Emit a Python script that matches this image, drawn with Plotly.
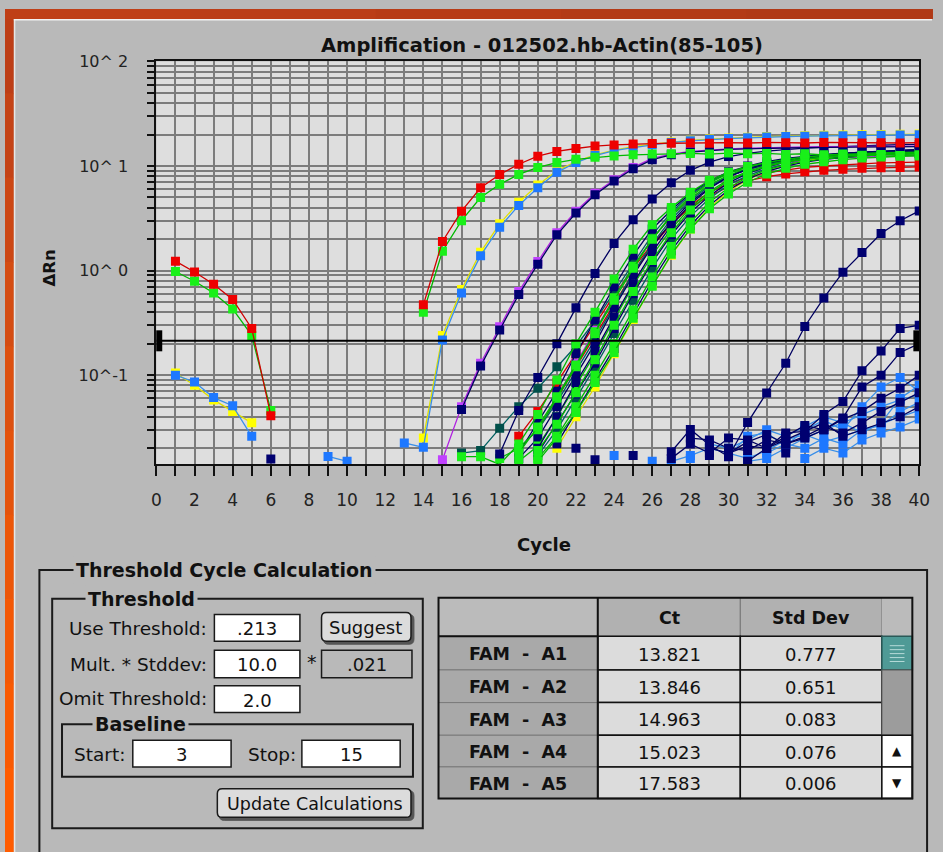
import plotly.graph_objects as go

# ---------------- data ----------------
threshold = 0.213

# curves that begin at cycle 1 (None = below the visible range)
red_a = [1.23, 0.97, 0.74, 0.53, 0.28, 0.041, None, None, None, None, None, None, None,
         0.47, 1.9, 3.7, 6.2, 8.3, 10.4, 12.4, 13.8, 14.7, 15.5, 15.9, 16.2, 16.4, 16.5,
         16.6, 16.5, 16.7, 16.6, 16.8, 16.7, 16.6, 16.8, 16.7, 16.6, 16.7, 16.6, 16.7]
green_a = [0.98, 0.79, 0.61, 0.43, 0.24, 0.046, None, None, None, None, None, None, None,
           0.40, 1.53, 3.0, 5.0, 6.7, 8.3, 9.7, 10.8, 11.6, 12.1, 12.5, 12.8, 13.0, 13.1,
           13.2, 13.0, 13.3, 13.1, 13.2, 12.9, 13.1, 12.8, 13.0, 12.7, 12.9, 12.6, 12.8]
blue_a = [0.10, 0.086, 0.061, 0.051, 0.026, None, None, None, 0.0167, 0.015, None, None,
          0.0225, 0.0204, 0.217, 0.61, 1.39, 2.6, 4.2, 6.2, 8.7, 10.8, 12.6, 14.0, 15.0,
          16.0, 16.8, 17.4, 17.9, 18.3, 18.6, 18.9, 19.1, 19.3, 19.4, 19.5, 19.6, 19.7, 19.8, 19.9]
yellow_a = [0.105, 0.08, 0.058, 0.045, 0.035, None, None, None, None, None, None, None, None,
            0.025, 0.24, 0.66, 1.5, 2.8, 4.5, 6.6, 9.0, 11.0, 12.8, 14.2, 15.3, 16.2, 17.0,
            17.6, 18.1, 18.5, 18.8, 19.1, 19.3, 19.5, 19.7, 19.8, 19.9, 20.0, 20.1, 20.2]

# later curves: (first cycle, values)
magenta_m = (15, [0.0155, 0.05, 0.13, 0.29, 0.63, 1.22, 2.3, 3.7, 5.5, 7.4, 9.7, 11.8, 13.0,
                  13.8, 14.3, 14.6, 14.8, 15.0, 15.1, 15.2, 15.3, 15.3, 15.4, 15.4, 15.5, 15.5])
navy_m = (16, [0.047, 0.122, 0.27, 0.59, 1.15, 2.2, 3.55, 5.3, 7.2, 9.4, 11.5, 12.8, 13.6,
               14.1, 14.4, 14.6, 14.8, 14.9, 15.0, 15.1, 15.1, 15.2, 15.2, 15.3, 15.3])
navy_n1 = (18, [0.0176, 0.046, 0.095, 0.2, 0.44, 0.94, 1.82, 3.06, 4.84, 6.9, 9.1, 10.9, 12.3,
                13.2, 13.9, 14.4, 14.8, 15.1, 15.4, 15.6, 15.8, 16.0, 16.1])
teal_t1 = (16, [0.018, 0.019, 0.031, 0.05, 0.075, 0.12, 0.19, 0.33, 0.62, 1.2, 2.2, 3.6, 5.3,
                7.0, 8.6, 9.8, 10.8, 11.6, 12.2, 12.6, 13.0, 13.3, 13.5, 13.7, 13.8])

bundle_red = [
    (19, [0.026, 0.045, 0.085, 0.16, 0.3, 0.58, 1.05, 1.8, 2.8, 4.0, 5.2, 6.3, 7.2, 7.9, 8.4,
          8.8, 9.1, 9.3, 9.5, 9.6, 9.7, 9.8]),
    (20, [0.03, 0.06, 0.12, 0.24, 0.48, 0.95, 1.7, 2.8, 4.2, 5.6, 6.8, 7.8, 8.6, 9.2, 9.7,
          10.0, 10.3, 10.5, 10.7, 10.8, 10.9]),
]
bundle_purple = [
    (20, [0.03, 0.06, 0.13, 0.27, 0.55, 1.1, 2.0, 3.3, 4.9, 6.5, 8.0, 9.2, 10.1, 10.8, 11.3,
          11.7, 12.0, 12.2, 12.4, 12.5, 12.6]),
]
bundle_teal = [
    (20, [0.017, 0.03, 0.06, 0.12, 0.25, 0.52, 1.05, 2.0, 3.3, 4.9, 6.6, 8.1, 9.4, 10.4, 11.2,
          11.8, 12.2, 12.6, 12.9, 13.1, 13.2]),
    (19, [0.02, 0.03, 0.055, 0.11, 0.22, 0.46, 0.95, 1.8, 3.1, 4.7, 6.4, 8.0, 9.3, 10.3, 11.1,
          11.7, 12.2, 12.6, 12.9, 13.1, 13.3, 13.4]),
]
bundle_yellow = [
    (21, [0.02, 0.04, 0.077, 0.16, 0.34, 0.72, 1.4, 2.5, 4.0, 5.7, 7.4, 8.9, 10.2, 11.2, 12.0,
          12.7, 13.2, 13.6, 13.9, 14.1]),
]
bundle_green = [
    (16, [0.0166, 0.0166, 0.014, 0.022, 0.042, 0.09, 0.2, 0.40, 0.83, 1.6, 2.75, 4.0, 5.6, 7.3,
          8.7, 9.9, 10.8, 11.5, 12.0, 12.4, 12.7, 13.0, 13.2, 13.3, 13.4]),
    (18, [0.016, 0.02, 0.03, 0.06, 0.12, 0.26, 0.55, 1.1, 2.0, 3.3, 4.9, 6.6, 8.2, 9.5, 10.5,
          11.3, 11.9, 12.3, 12.7, 13.0, 13.2, 13.4, 13.5]),
    (19, [0.015, 0.021, 0.04, 0.08, 0.16, 0.34, 0.72, 1.4, 2.5, 4.0, 5.7, 7.4, 8.9, 10.1, 11.0,
          11.7, 12.2, 12.6, 12.9, 13.1, 13.3, 13.4]),
    (19, [0.018, 0.032, 0.062, 0.125, 0.25, 0.52, 1.05, 2.0, 3.4, 5.1, 6.9, 8.5, 9.8, 10.8,
          11.6, 12.2, 12.6, 12.9, 13.2, 13.4, 13.5, 13.6]),
    (20, [0.016, 0.026, 0.05, 0.1, 0.2, 0.42, 0.87, 1.7, 2.9, 4.5, 6.2, 7.8, 9.2, 10.3, 11.1,
          11.7, 12.1, 12.5, 12.8, 13.0, 13.1]),
    (20, [0.015, 0.025, 0.044, 0.085, 0.165, 0.35, 0.71, 1.43, 2.5, 3.9, 5.4, 7.0, 8.4, 9.5,
          10.4, 11.0, 11.5, 11.9, 12.2, 12.4, 12.5]),
    (20, [0.019, 0.034, 0.068, 0.14, 0.3, 0.63, 1.25, 2.3, 3.8, 5.5, 7.2, 8.7, 9.9, 10.9,
          11.6, 12.1, 12.5, 12.8, 13.0, 13.1, 13.2]),
]
bundle_navy = [
    (19, [0.018, 0.035, 0.07, 0.16, 0.34, 0.7, 1.4, 2.5, 3.8, 5.5, 7.2, 8.8, 10.0, 11.0, 11.8,
          12.4, 12.9, 13.3, 13.6, 13.9, 14.1, 14.3]),
    (19, [0.016, 0.025, 0.05, 0.1, 0.2, 0.44, 0.9, 1.7, 2.9, 4.5, 6.2, 7.9, 9.3, 10.5, 11.4,
          12.1, 12.7, 13.2, 13.6, 13.9, 14.2, 14.4]),
    (20, [0.018, 0.035, 0.066, 0.13, 0.28, 0.6, 1.2, 2.2, 3.6, 5.2, 6.9, 8.5, 9.8, 10.9, 11.7,
          12.4, 12.9, 13.3, 13.6, 13.8, 14.0]),
    (20, [0.02, 0.04, 0.085, 0.17, 0.36, 0.75, 1.5, 2.7, 4.3, 6.1, 7.9, 9.4, 10.6, 11.5, 12.2,
          12.7, 13.1, 13.4, 13.6, 13.8, 13.9]),
    (21, [0.022, 0.045, 0.09, 0.18, 0.38, 0.8, 1.55, 2.7, 4.2, 5.9, 7.5, 8.9, 10.0, 10.9, 11.6,
          12.1, 12.5, 12.8, 13.0, 13.2]),
]
late_navy = [
    (27, [0.0185, 0.0303, 0.0215, 0.0166, 0.0352, 0.0676, 0.130, 0.292, 0.548, 0.966, 1.49,
          2.26, 3.0, 3.72]),
    (27, [0.016, 0.022, 0.018, 0.025, 0.024, 0.02, 0.028, 0.029, 0.042, 0.056, 0.11, 0.17,
          0.28, 0.30]),
    (28, [0.025, 0.024, 0.02, 0.019, 0.024, 0.022, 0.025, 0.03, 0.039, 0.077, 0.1, 0.165, 0.2]),
    (30, [0.018, 0.021, 0.02, 0.026, 0.033, 0.03, 0.038, 0.045, 0.06, 0.075, 0.1]),
    (31, [0.015, 0.02, 0.024, 0.029, 0.035, 0.026, 0.03, 0.035, 0.04, 0.05]),
    (29, [0.02, 0.018, 0.023, 0.027, 0.022, 0.026, 0.032, 0.028, 0.035, 0.045, 0.055, 0.068]),
]
late_blue = [
    (30, [0.017, 0.026, 0.028, 0.021, 0.03, 0.037, 0.03, 0.05, 0.077, 0.095, 0.07]),
    (31, [0.015, 0.016, 0.02, 0.025, 0.03, 0.035, 0.028, 0.035, 0.06, 0.08]),
    (32, [0.018, 0.022, 0.02, 0.025, 0.022, 0.03, 0.033, 0.045, 0.055]),
    (34, [0.016, 0.02, 0.018, 0.024, 0.028, 0.032, 0.038]),
    (27, [0.015, 0.017, 0.02, 0.018, 0.016, 0.019, 0.024, 0.027, 0.023, 0.026, 0.03, 0.034,
          0.04, 0.046]),
    (29, [0.022, 0.02, 0.024, 0.03, 0.026, 0.032, 0.04, 0.035, 0.042, 0.05, 0.058, 0.065]),
]
stray_navy_x = [6, 22, 23, 25, 29, 33]
stray_navy_y = [0.0158, 0.020, 0.0155, 0.017, 0.017, 0.018]
stray_blue_x = [24, 26, 28]
stray_blue_y = [0.017, 0.015, 0.016]

x_tick_vals = list(range(0, 41))
x_tick_text = [str(v) if v % 2 == 0 else "" for v in x_tick_vals]
y_major_vals = [0.1, 1, 10, 100]
y_major_text = ["10^-1", "10^ 0", "10^ 1", "10^ 2"]
y_minor_mult = [2, 3, 4, 5, 6, 7, 8, 9]

table_rows = ["FAM - A1", "FAM - A2", "FAM - A3", "FAM - A4", "FAM - A5"]
table_ct = ["13.821", "13.846", "14.963", "15.023", "17.583"]
table_sd = ["0.777", "0.651", "0.083", "0.076", "0.006"]

# ---------------- colours ----------------
C_RED, L_RED = "#ee0000", "#d00000"
C_GREEN, L_GREEN = "#19f019", "#00b800"
C_BLUE, L_BLUE = "#1e78ff", "#3a8fe8"
C_YEL, L_YEL = "#ffff00", "#e0e000"
C_NAVY, L_NAVY = "#000070", "#000060"
C_MAG, L_MAG = "#c040ff", "#b020e0"
C_TEAL, L_TEAL = "#00504a", "#006060"
PANEL = "#b9b9b9"
FONT = "DejaVu Sans"

W, H = 943, 852


def px(x):
    return x / W


def py(y):
    return 1 - y / H


fig = go.Figure()


def add_curve(start, vals, mc, lc, msize=9):
    xs = list(range(start, start + len(vals)))
    fig.add_trace(go.Scatter(x=xs, y=vals, mode="lines+markers", connectgaps=False,
                             line=dict(color=lc, width=1.3),
                             marker=dict(symbol="square", size=msize, color=mc, line=dict(width=0)),
                             hoverinfo="skip", showlegend=False))


for s, v in late_blue:
    add_curve(s, v, C_BLUE, L_BLUE)
for s, v in late_navy:
    add_curve(s, v, C_NAVY, L_NAVY)
fig.add_trace(go.Scatter(x=stray_blue_x, y=stray_blue_y, mode="markers",
                         marker=dict(symbol="square", size=9, color=C_BLUE), showlegend=False))
fig.add_trace(go.Scatter(x=stray_navy_x, y=stray_navy_y, mode="markers",
                         marker=dict(symbol="square", size=9, color=C_NAVY), showlegend=False))
for s, v in bundle_red:
    add_curve(s, v, C_RED, L_RED)
for s, v in bundle_purple:
    add_curve(s, v, C_MAG, L_MAG)
add_curve(teal_t1[0], teal_t1[1], C_TEAL, L_TEAL)
for s, v in bundle_teal:
    add_curve(s, v, C_TEAL, L_TEAL)
for s, v in bundle_yellow:
    add_curve(s, v, C_YEL, L_YEL)
for i in range(max(len(bundle_green), len(bundle_navy))):
    if i < len(bundle_navy):
        add_curve(bundle_navy[i][0], bundle_navy[i][1], C_NAVY, L_NAVY)
    if i < len(bundle_green):
        add_curve(bundle_green[i][0], bundle_green[i][1], C_GREEN, L_GREEN)
add_curve(navy_n1[0], navy_n1[1], C_NAVY, L_NAVY)
add_curve(magenta_m[0], magenta_m[1], C_MAG, L_MAG)
add_curve(navy_m[0], navy_m[1], C_NAVY, L_NAVY)
add_curve(1, yellow_a, C_YEL, L_YEL)
add_curve(1, blue_a, C_BLUE, L_BLUE)
add_curve(1, green_a, C_GREEN, L_GREEN)
add_curve(1, red_a, C_RED, L_RED)

# threshold line with end tabs
fig.add_trace(go.Scatter(x=[0, 40], y=[threshold, threshold], mode="lines",
                         line=dict(color="black", width=2), showlegend=False, hoverinfo="skip"))
fig.add_trace(go.Scatter(x=[0.15, 39.85], y=[threshold, threshold], mode="markers",
                         marker=dict(symbol="line-ns", size=15, line=dict(color="black", width=6)),
                         cliponaxis=False, showlegend=False, hoverinfo="skip"))

# y ticks: decades labelled, 2..9 unlabelled
y_vals, y_text = [], []
for k, dec in enumerate(y_major_vals):
    y_vals.append(dec)
    y_text.append(y_major_text[k])
for dec in [0.01, 0.1, 1, 10]:
    for m in y_minor_mult:
        y_vals.append(dec * m)
        y_text.append("")

GRID = "#7c7c7c"
fig.update_xaxes(domain=[px(154), px(930)], range=[0, 40], tickmode="array",
                 tickvals=x_tick_vals, ticktext=x_tick_text, ticks="outside", ticklen=10,
                 tickwidth=2, tickcolor="#111", showline=True, linecolor="#111", linewidth=2,
                 mirror=True, showgrid=True, gridcolor=GRID, gridwidth=1.6, zeroline=False,
                 tickfont=dict(family=FONT, size=17, color="#222"), ticklabelstandoff=9)
fig.update_yaxes(type="log", domain=[py(460), py(53)], range=[-1.851, 2.0], tickmode="array",
                 tickvals=y_vals, ticktext=y_text, ticks="outside", ticklen=7, tickwidth=2,
                 tickcolor="#111", showline=True, linecolor="#111", linewidth=2, mirror=True,
                 showgrid=True, gridcolor=GRID, gridwidth=1.6, zeroline=False,
                 tickfont=dict(family=FONT, size=16, color="#222"), ticklabelstandoff=16)

shapes = []
annotations = []


def rect(x0, y0, x1, y1, fill=None, line="#1a1a1a", lw=1.5):
    shapes.append(dict(type="rect", xref="paper", yref="paper", x0=px(x0), x1=px(x1),
                       y0=py(y1), y1=py(y0), fillcolor=fill if fill else "rgba(0,0,0,0)",
                       line=dict(color=line if line else "rgba(0,0,0,0)", width=lw if line else 0)))


def rrect(x0, y0, x1, y1, r, fill, line="#1a1a1a", lw=1.5):
    X0, X1, T, B = px(x0), px(x1), py(y0), py(y1)
    rx, ry = r / W, r / H
    p = (f"M {X0 + rx},{T} L {X1 - rx},{T} Q {X1},{T} {X1},{T - ry} L {X1},{B + ry} "
         f"Q {X1},{B} {X1 - rx},{B} L {X0 + rx},{B} Q {X0},{B} {X0},{B + ry} L {X0},{T - ry} "
         f"Q {X0},{T} {X0 + rx},{T} Z")
    shapes.append(dict(type="path", xref="paper", yref="paper", path=p, fillcolor=fill,
                       line=dict(color=line, width=lw)))


def text(x, y, s, size=18, bold=False, anchor="center", color="#111", bg=None, angle=0):
    a = dict(xref="paper", yref="paper", x=px(x), y=py(y), text=f"<b>{s}</b>" if bold else s,
             showarrow=False, xanchor=anchor, yanchor="middle", textangle=angle,
             font=dict(family=FONT, size=size, color=color))
    if bg:
        a["bgcolor"] = bg
        a["borderpad"] = 2
    annotations.append(a)


# orange frame (left and top) + light bevel
left_cols = ["#bd3e16", "#c44316", "#cc4714", "#d44c12", "#dc5010", "#e4530c", "#ec5608",
             "#f35805", "#f95a02", "#ff5c00"]
seg = H / len(left_cols)
for i, c in enumerate(left_cols):
    rect(0, i * seg, 9, (i + 1) * seg + 1, fill=c, line=None)
top_cols = ["#bf3f17", "#bb3d17", "#b73b16", "#b33a16", "#b03916"]
segw = W / len(top_cols)
for i, c in enumerate(top_cols):
    rect(i * segw, 0, (i + 1) * segw + 1, 10, fill=c, line=None)
rect(9, 10, 10.5, H, fill="#e6e6e6", line=None)
rect(9, 10, W, 11.5, fill="#f2f2f2", line=None)

# chart texts
text(546, 37, "Amplification - 012502.hb-Actin(85-105)", size=19.5, bold=True)
text(45, 262, "ΔRn", size=16.5, bold=True, angle=-90)
text(548, 541, "Cycle", size=18, bold=True)

# group boxes
rect(35, 567, 938, 880, line="#1a1a1a", lw=2)
text(69, 567, "Threshold Cycle Calculation", size=19, bold=True, anchor="left", bg=PANEL)
rect(48, 596, 425, 828, line="#1a1a1a", lw=2)
text(81, 596, "Threshold", size=19, bold=True, anchor="left", bg=PANEL)
rect(58, 723, 415, 776, line="#1a1a1a", lw=2)
text(89, 723, "Baseline", size=19, bold=True, anchor="left", bg=PANEL)

# fields
for (x0, y0, x1, y1, val) in [(213, 612, 300, 639, ".213"), (213, 648, 300, 676, "10.0"),
                               (213, 684, 300, 711, "2.0"), (130, 739, 230, 766, "3"),
                               (302, 739, 402, 766, "15")]:
    rect(x0, y0, x1, y1, fill="#ffffff", line="#1a1a1a", lw=1.5)
    text((x0 + x1) / 2, (y0 + y1) / 2 + 1, val, size=18)
rect(322, 648, 414, 676, fill=PANEL, line="#1a1a1a", lw=1.5)
text(368, 663, ".021", size=18)
text(312, 660, "*", size=19)
text(208, 626, "Use Threshold:", size=18.5, anchor="right")
text(208, 662, "Mult. * Stddev:", size=18.5, anchor="right")
text(208, 697, "Omit Threshold:", size=18.5, anchor="right")
text(124, 753, "Start:", size=18.5, anchor="right")
text(298, 753, "Stop:", size=18.5, anchor="right")

# buttons
rrect(324, 612, 416, 642, 5, "#555555", line="#555555", lw=1)
rrect(322, 610, 413, 639, 5, "#dcdcdc", line="#1a1a1a", lw=1.5)
text(367, 625, "Suggest", size=18)
rrect(218, 790, 416, 820, 5, "#555555", line="#555555", lw=1)
rrect(216, 788, 413, 817, 5, "#dcdcdc", line="#1a1a1a", lw=1.5)
text(315, 803, "Update Calculations", size=17.5)

# table
TX = [441, 603, 748, 892, 923]
TY = [595, 634, 668, 701, 734, 766, 798]
rect(TX[0], TY[0], TX[1], TY[1], fill="#bbbbbb", line=None)
rect(TX[1], TY[0], TX[2], TY[1], fill="#b1b1b1", line="#777777", lw=1)
rect(TX[2], TY[0], TX[3], TY[1], fill="#b1b1b1", line="#777777", lw=1)
rect(TX[3], TY[0], TX[4], TY[1], fill="#bbbbbb", line=None)
for r in range(5):
    rect(TX[0], TY[r + 1], TX[1], TY[r + 2], fill="#a9a9a9", line="#7a7a7a", lw=1)
    rect(TX[1], TY[r + 1], TX[2], TY[r + 2], fill="#dcdcdc", line="#111111", lw=1.5)
    rect(TX[2], TY[r + 1], TX[3], TY[r + 2], fill="#dcdcdc", line="#111111", lw=1.5)
    yc = (TY[r + 1] + TY[r + 2]) / 2 + 1
    text((TX[0] + TX[1]) / 2, yc, table_rows[r].replace(" - ", "  -  "), size=17.5, bold=True)
    text((TX[1] + TX[2]) / 2, yc, table_ct[r], size=18)
    text((TX[2] + TX[3]) / 2, yc, table_sd[r], size=18)
text((TX[1] + TX[2]) / 2, (TY[0] + TY[1]) / 2 + 1, "Ct", size=17.5, bold=True)
text((TX[2] + TX[3]) / 2, (TY[0] + TY[1]) / 2 + 1, "Std Dev", size=17.5, bold=True)
# scrollbar
rect(TX[3], TY[1], TX[4], TY[2], fill="#4f9a96", line="#2a5a58", lw=1.5)
for gy in [643, 647, 651, 655, 659]:
    rect(TX[3] + 8, gy, TX[4] - 8, gy + 1, fill="#b8dcda", line=None)
rect(TX[3], TY[2], TX[4], TY[4], fill="#9c9c9c", line="#555555", lw=1)
rect(TX[3], TY[4], TX[4], TY[5], fill="#ffffff", line="#111111", lw=1.5)
rect(TX[3], TY[5], TX[4], TY[6], fill="#ffffff", line="#111111", lw=1.5)
text((TX[3] + TX[4]) / 2, (TY[4] + TY[5]) / 2, "▲", size=12)
text((TX[3] + TX[4]) / 2, (TY[5] + TY[6]) / 2, "▼", size=12)
# table frame and main separators
rect(TX[0], TY[0], TX[4], TY[6], line="#111111", lw=2)
shapes.append(dict(type="line", xref="paper", yref="paper", x0=px(TX[1]), x1=px(TX[1]),
                   y0=py(TY[0]), y1=py(TY[6]), line=dict(color="#111111", width=2)))
shapes.append(dict(type="line", xref="paper", yref="paper", x0=px(TX[0]), x1=px(TX[1]),
                   y0=py(TY[1]), y1=py(TY[1]), line=dict(color="#111111", width=2)))

fig.update_layout(width=W, height=H, margin=dict(l=0, r=0, t=0, b=0, pad=0),
                  paper_bgcolor=PANEL, plot_bgcolor="#dedede", showlegend=False,
                  shapes=shapes, annotations=annotations, font=dict(family=FONT))

fig.write_html("out.html")
